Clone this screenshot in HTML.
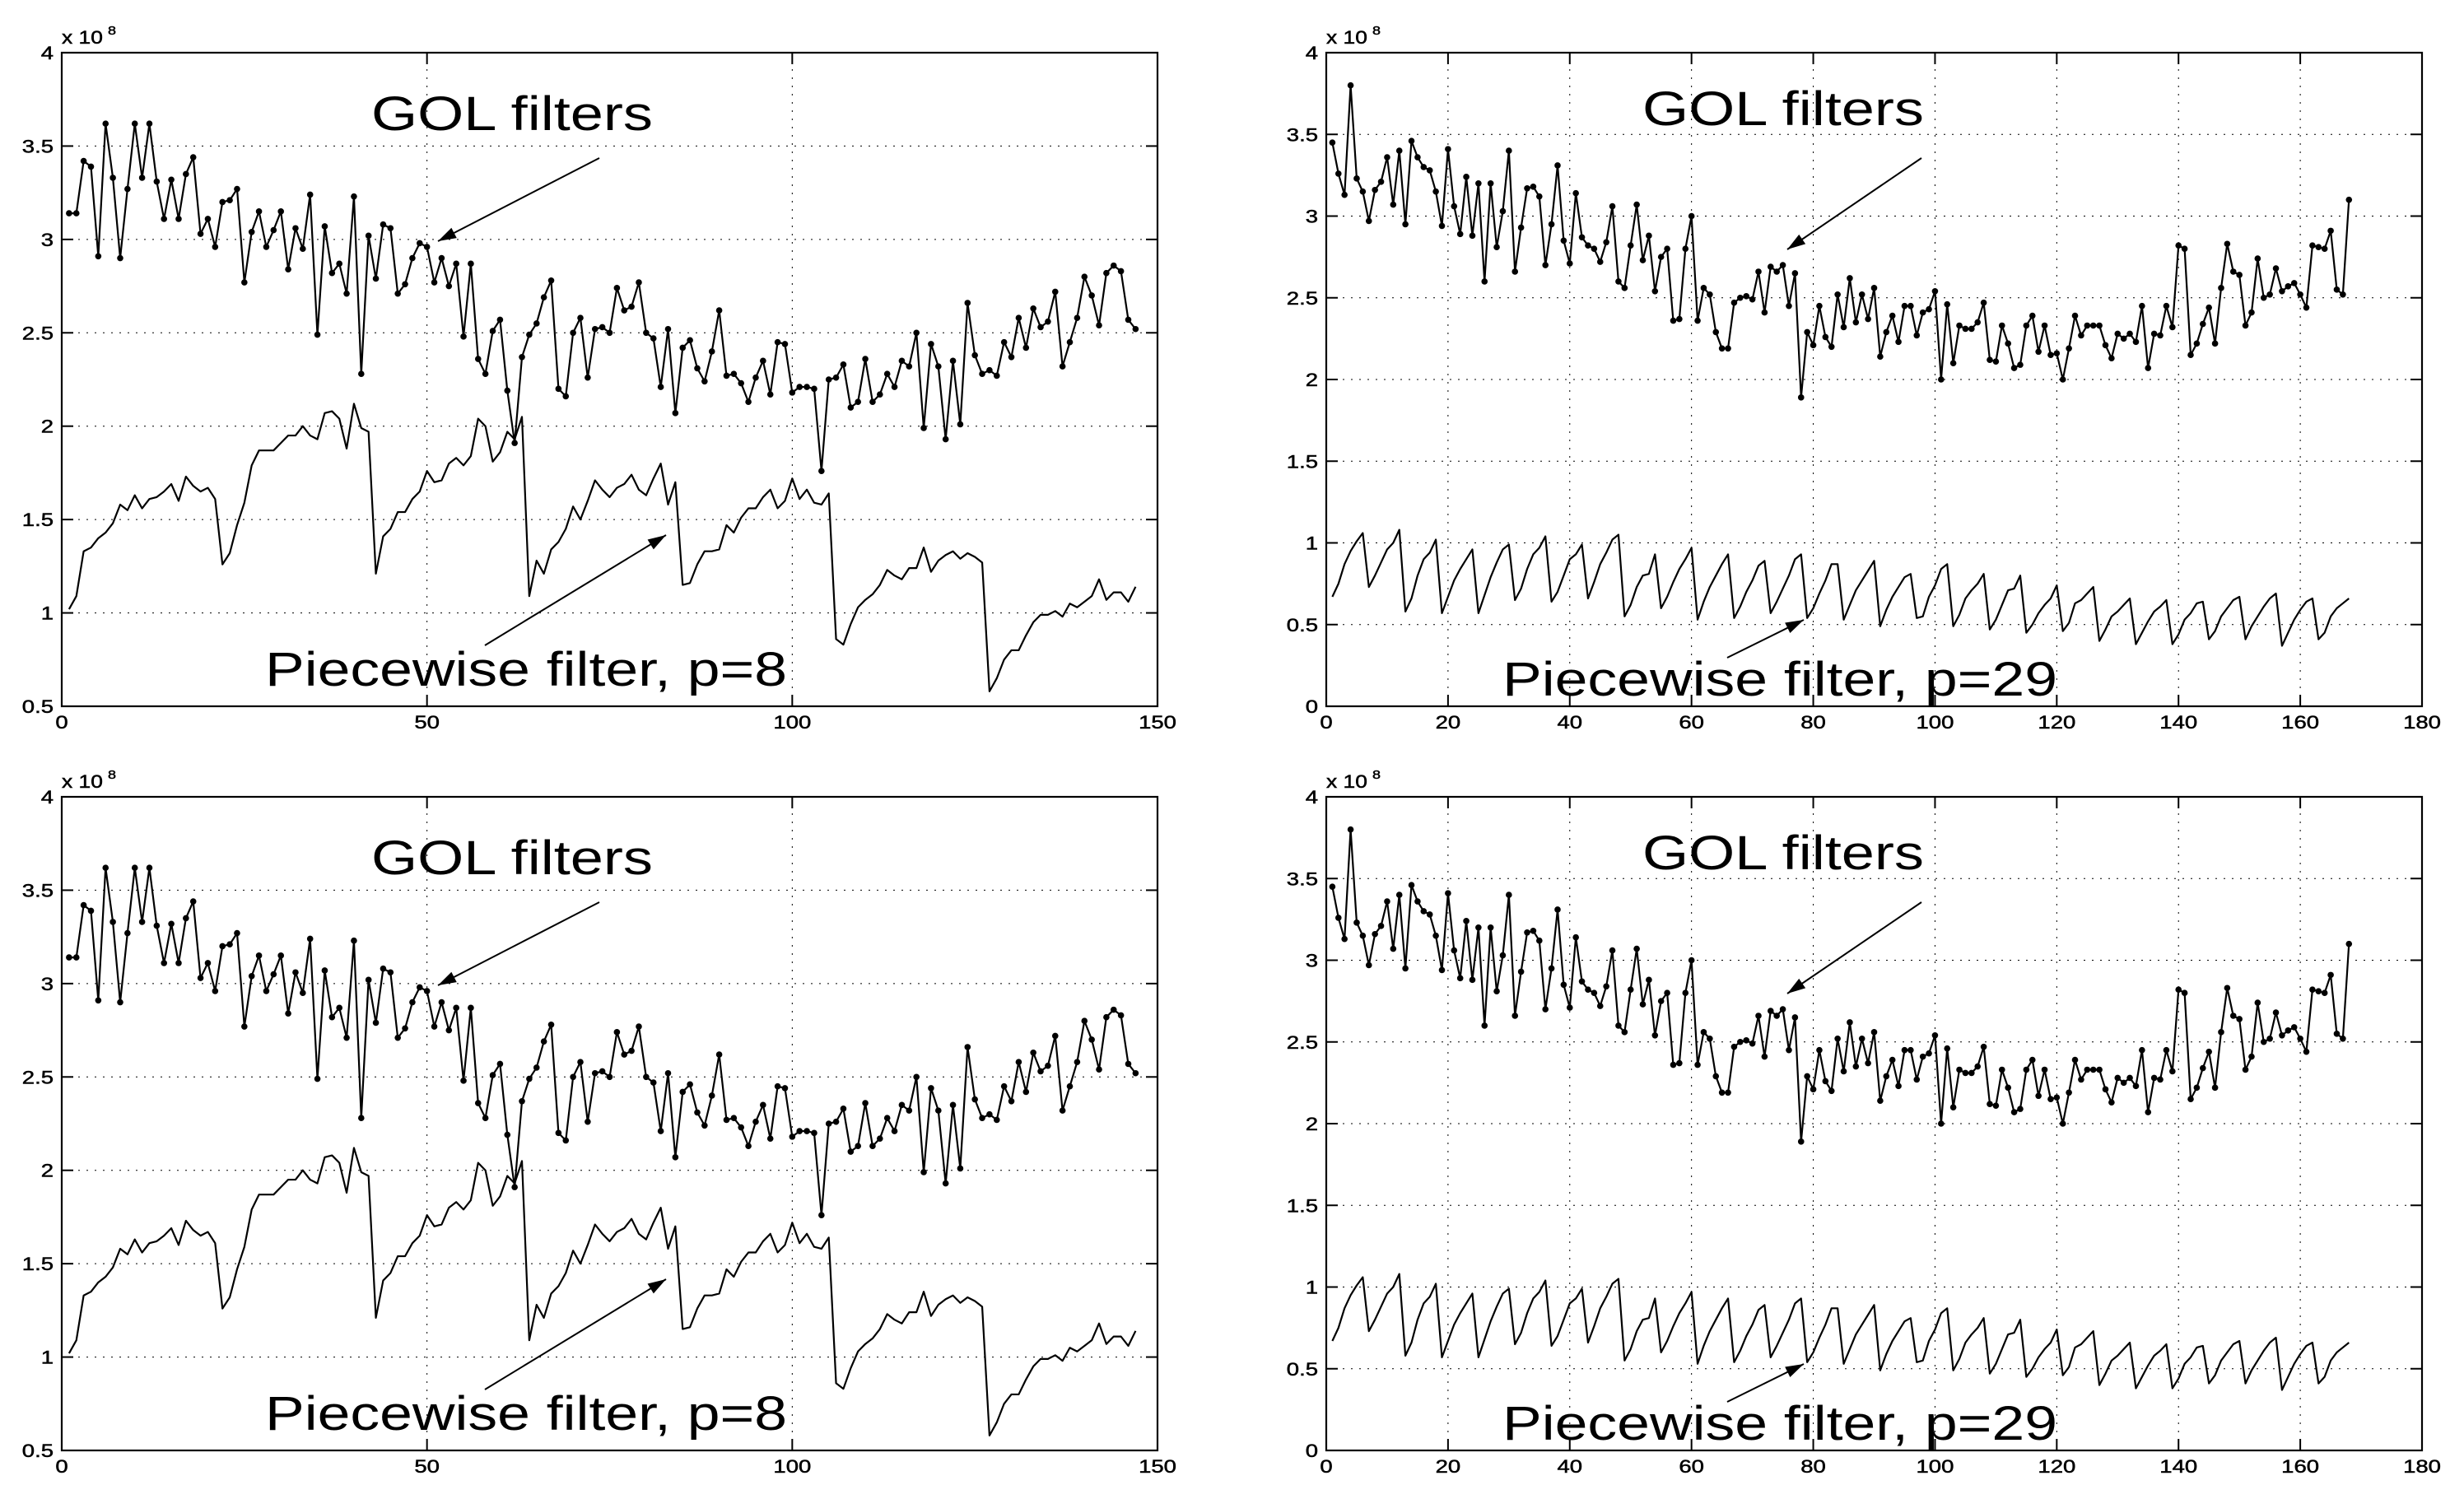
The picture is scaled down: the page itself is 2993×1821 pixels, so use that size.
<!DOCTYPE html>
<html><head><meta charset="utf-8"><style>
html,body{margin:0;padding:0;background:#fff;}
svg{display:block;}
text{font-family:"Liberation Sans",sans-serif;fill:#000;}
.tl{stroke:#000;stroke-width:0.5;}
</style></head><body>
<svg id="fig" width="2993" height="1821" viewBox="0 0 2993 1821" xmlns="http://www.w3.org/2000/svg"></svg>
<script>
// ---- data ----
const golLeft = [3.14,3.14,3.42,3.39,2.91,3.62,3.33,2.90,3.27,3.62,3.33,3.62,3.31,3.11,3.32,3.11,3.35,3.44,3.03,3.11,2.96,3.20,3.21,3.27,2.77,3.04,3.15,2.96,3.05,3.15,2.84,3.06,2.95,3.24,2.49,3.07,2.82,2.87,2.71,3.23,2.28,3.02,2.79,3.08,3.06,2.71,2.76,2.90,2.98,2.96,2.77,2.90,2.75,2.87,2.48,2.87,2.36,2.28,2.51,2.57,2.19,1.91,2.37,2.49,2.55,2.69,2.78,2.20,2.16,2.50,2.58,2.26,2.52,2.53,2.50,2.74,2.62,2.64,2.77,2.50,2.47,2.21,2.52,2.07,2.42,2.46,2.31,2.24,2.40,2.62,2.27,2.28,2.23,2.13,2.26,2.35,2.17,2.45,2.44,2.18,2.21,2.21,2.20,1.76,2.25,2.26,2.33,2.10,2.13,2.36,2.13,2.17,2.28,2.21,2.35,2.32,2.50,1.99,2.44,2.32,1.93,2.35,2.01,2.66,2.38,2.28,2.30,2.27,2.45,2.37,2.58,2.42,2.63,2.53,2.56,2.72,2.32,2.45,2.58,2.80,2.70,2.54,2.82,2.86,2.83,2.57,2.52];
const pwLeft = [1.02,1.09,1.33,1.35,1.40,1.43,1.48,1.58,1.55,1.63,1.56,1.61,1.62,1.65,1.69,1.60,1.73,1.68,1.65,1.67,1.61,1.26,1.32,1.47,1.59,1.79,1.87,1.87,1.87,1.91,1.95,1.95,2.00,1.95,1.93,2.07,2.08,2.04,1.88,2.12,1.99,1.97,1.21,1.41,1.45,1.54,1.54,1.61,1.65,1.76,1.70,1.71,1.80,1.83,1.79,1.84,2.04,2.00,1.81,1.86,1.97,1.93,2.05,1.09,1.28,1.21,1.34,1.38,1.45,1.57,1.50,1.60,1.71,1.66,1.62,1.67,1.69,1.74,1.66,1.63,1.72,1.80,1.58,1.70,1.15,1.16,1.26,1.33,1.33,1.34,1.47,1.43,1.51,1.56,1.56,1.62,1.66,1.56,1.60,1.72,1.61,1.66,1.59,1.58,1.64,0.86,0.83,0.94,1.03,1.07,1.10,1.15,1.23,1.20,1.18,1.24,1.24,1.35,1.22,1.28,1.31,1.33,1.29,1.32,1.30,1.27,0.58,0.65,0.75,0.80,0.80,0.88,0.95,0.99,0.99,1.01,0.98,1.05,1.03,1.06,1.09,1.18,1.07,1.11,1.11,1.06,1.14];
const golRight = [3.45,3.26,3.13,3.80,3.23,3.15,2.97,3.16,3.21,3.36,3.07,3.40,2.95,3.46,3.36,3.30,3.28,3.15,2.94,3.41,3.06,2.89,3.24,2.88,3.20,2.60,3.20,2.81,3.03,3.40,2.66,2.93,3.17,3.18,3.12,2.70,2.95,3.31,2.85,2.71,3.14,2.87,2.82,2.80,2.72,2.84,3.06,2.60,2.56,2.82,3.07,2.73,2.88,2.54,2.75,2.80,2.36,2.37,2.80,3.00,2.36,2.56,2.52,2.29,2.19,2.19,2.47,2.50,2.51,2.49,2.66,2.41,2.69,2.66,2.70,2.45,2.65,1.89,2.29,2.21,2.45,2.26,2.20,2.52,2.32,2.62,2.35,2.52,2.37,2.56,2.14,2.29,2.39,2.23,2.45,2.45,2.27,2.41,2.43,2.54,2.00,2.46,2.10,2.33,2.31,2.31,2.35,2.47,2.12,2.11,2.33,2.22,2.07,2.09,2.33,2.39,2.17,2.33,2.15,2.16,2.00,2.19,2.39,2.27,2.33,2.33,2.33,2.21,2.13,2.28,2.25,2.28,2.23,2.45,2.07,2.28,2.27,2.45,2.32,2.82,2.80,2.15,2.22,2.34,2.44,2.22,2.56,2.83,2.66,2.64,2.33,2.41,2.74,2.50,2.52,2.68,2.54,2.57,2.59,2.52,2.44,2.82,2.81,2.80,2.91,2.55,2.52,3.10];
const pwRight = [.67,.75,.87,.95,1.01,1.06, .73,.80,.88,.96,1.00,1.08, .58,.66,.80,.90,.94,1.02, .57,.67,.77,.84,.90,.96, .57,.68,.79,.88,.96,.99, .65,.72,.84,.93,.97,1.04, .64,.70,.80,.90,.93,.99, .66,.76,.87,.94,1.02,1.05, .55,.62,.73,.80,.81,.93, .60,.67,.76,.84,.90,.97, .53,.64,.73,.80,.87,.93, .54,.61,.70,.77,.86,.89, .57,.64,.72,.80,.90,.93, .54,.60,.69,.77,.87,.87, .53,.62,.71,.77,.83,.89, .49,.59,.67,.73,.79,.81, .54,.55,.67,.74,.84,.87, .49,.56,.66,.71,.75,.81, .47,.53,.62,.71,.72,.80, .45,.50,.57,.62,.66,.74, .46,.51,.63,.65,.69,.73, .40,.47,.55,.58,.62,.66, .38,.45,.52,.58,.61,.65, .38,.44,.53,.57,.63,.64, .41,.46,.55,.60,.65,.67, .41,.49,.55,.61,.66,.69, .37,.45,.53,.59,.64,.66, .41,.45,.55,.60,.63,.66];
const xTicksLeft = [0,50,100,150];
const yTicksLeft = [0.5,1,1.5,2,2.5,3,3.5,4];
const xTicksRight = [0,20,40,60,80,100,120,140,160,180];
const yTicksRight = [0,0.5,1,1.5,2,2.5,3,3.5,4];
const pLabelLeft = "Piecewise filter, p=8";
const pLabelRight = "Piecewise filter, p=29";

const NS="http://www.w3.org/2000/svg";
const svg=document.getElementById('fig');
function mk(tag,parent,attrs){const e=document.createElementNS(NS,tag);for(const k in attrs)e.setAttribute(k,attrs[k]);parent.appendChild(e);return e;}
function txt(parent,x,y,s,size,anchor,sx,name){
  const g=mk('g',parent,{transform:`translate(${x},${y}) scale(${sx},1)`});
  const t=mk('text',g,{x:0,y:0,'font-size':size,'text-anchor':anchor,'class':'tl'});
  t.textContent=s;
  
  
  return t;
}

function panel(cfg){
  const {L,T,W,H,xmin,xmax,ymin,ymax,xt,yt,gol,pw,gx,gy,px,py,arr1,arr2,plabel,pw_w,name}=cfg;
  const g=mk('g',svg,{});
  
  
  const X=v=>L+(v-xmin)/(xmax-xmin)*W;
  const Y=v=>T+H-(v-ymin)/(ymax-ymin)*H;
  xt.forEach(v=>{ if(v>xmin&&v<xmax){const l=mk('line',g,{x1:X(v),x2:X(v),y1:T,y2:T+H,stroke:'#000','stroke-width':1,'stroke-dasharray':'2,8'});}});
  yt.forEach(v=>{ if(v>ymin&&v<ymax){const l=mk('line',g,{x1:L,x2:L+W,y1:Y(v),y2:Y(v),stroke:'#000','stroke-width':1,'stroke-dasharray':'2,8'});}});
  xt.forEach(v=>{
    mk('line',g,{x1:X(v),x2:X(v),y1:T+H,y2:T+H-14,stroke:'#000','stroke-width':2});
    mk('line',g,{x1:X(v),x2:X(v),y1:T,y2:T+14,stroke:'#000','stroke-width':2});
    txt(g,X(v),T+H+27,String(v),22,'middle',1.25,'x-tick-label');
  });
  yt.forEach(v=>{
    mk('line',g,{x1:L,x2:L+14,y1:Y(v),y2:Y(v),stroke:'#000','stroke-width':2});
    mk('line',g,{x1:L+W,x2:L+W-14,y1:Y(v),y2:Y(v),stroke:'#000','stroke-width':2});
    txt(g,L-10,Y(v)+8,String(v),22,'end',1.25,'y-tick-label');
  });
  txt(g,L,T-11,'x 10',22,'start',1.2,'y-exponent-label');
  txt(g,L+56,T-22,'8',15,'start',1.2,'y-exponent-power');
  const gp=gol.map((v,i)=>X(i+1)+','+Y(v)).join(' ');
  const l1=mk('polyline',g,{points:gp,fill:'none',stroke:'#000','stroke-width':2.2,'stroke-linejoin':'round'});
  
  
  gol.forEach((v,i)=>{
    const c=mk('circle',g,{cx:X(i+1),cy:Y(v),r:3.8,fill:'#000'});
    
    
  });
  const pp=pw.map((v,i)=>X(i+1)+','+Y(v)).join(' ');
  const l2=mk('polyline',g,{points:pp,fill:'none',stroke:'#000','stroke-width':2.2,'stroke-linejoin':'round'});
  
  
  const f=mk('rect',g,{x:L,y:T,width:W,height:H,fill:'none',stroke:'#000','stroke-width':2.2});
  
  
  const t1=mk('text',g,{x:gx,y:gy,'font-size':58,textLength:342,lengthAdjust:'spacingAndGlyphs'});
  t1.textContent='GOL filters';
  
  
  const t2=mk('text',g,{x:px,y:py,'font-size':58,textLength:pw_w,lengthAdjust:'spacingAndGlyphs'});
  t2.textContent=plabel;
  
  
  [arr1,arr2].forEach(a=>{
    const [x1,y1,x2,y2]=a;
    const ln=mk('line',g,{x1,y1,x2,y2,stroke:'#000','stroke-width':2});
    
    
    const ang=Math.atan2(y2-y1,x2-x1),len=22,w=7;
    const bx=x2-len*Math.cos(ang),by=y2-len*Math.sin(ang);
    const nx=-Math.sin(ang)*w,ny=Math.cos(ang)*w;
    mk('polygon',g,{points:`${x2},${y2} ${bx+nx},${by+ny} ${bx-nx},${by-ny}`,fill:'#000'});
  });
}

[0,904].forEach((dy,k)=>{
  panel({name:k?'bottom-left-chart':'top-left-chart',L:75,T:64+dy,W:1331,H:794,xmin:0,xmax:150,ymin:0.5,ymax:4,xt:xTicksLeft,yt:yTicksLeft,
    gol:golLeft,pw:pwLeft,gx:451,gy:158+dy,px:322,py:833+dy,pw_w:634,
    arr1:[728,192+dy,532,293+dy],arr2:[589,784+dy,809,650+dy],plabel:pLabelLeft});
  panel({name:k?'bottom-right-chart':'top-right-chart',L:1611,T:64+dy,W:1331,H:794,xmin:0,xmax:180,ymin:0,ymax:4,xt:xTicksRight,yt:yTicksRight,
    gol:golRight,pw:pwRight,gx:1995,gy:152+dy,px:1825,py:845+dy,pw_w:674,
    arr1:[2334,192+dy,2171,303+dy],arr2:[2098,799+dy,2191,753+dy],plabel:pLabelRight});
});
</script>
</body></html>
